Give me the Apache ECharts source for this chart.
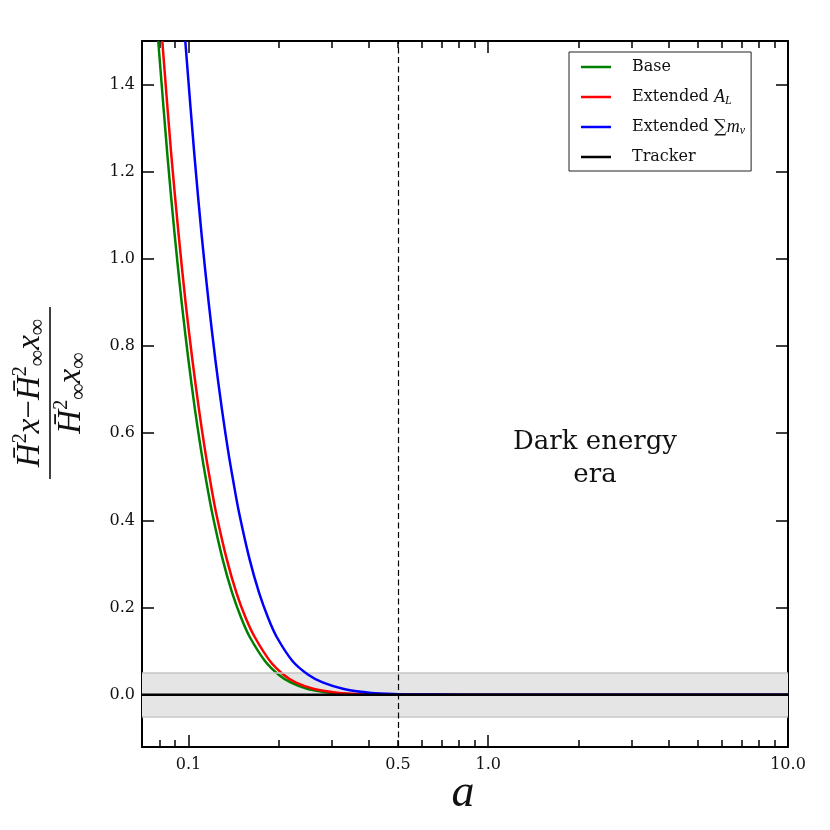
<!DOCTYPE html>
<html>
<head>
<meta charset="utf-8">
<script src="https://cdn.jsdelivr.net/npm/echarts@6/dist/echarts.min.js"></script>
<style>
html,body{margin:0;padding:0;background:#fff;}
#chart{width:830px;height:830px;}
</style>
</head>
<body>
<div id="chart"></div>
<script>
// ---------- data ----------
const baseA = [0.0793, 0.085, 0.09, 0.095, 0.1, 0.105, 0.11, 0.115, 0.12, 0.13, 0.14, 0.15, 0.16, 0.18, 0.2, 0.22, 0.25, 0.3, 0.35, 0.4, 0.5, 10];
const baseV = [1.5, 1.241, 1.054, 0.898, 0.768, 0.657, 0.564, 0.485, 0.417, 0.311, 0.233, 0.176, 0.133, 0.0775, 0.0459, 0.0276, 0.0132, 0.0041, 0.0013, 0.0004, 0, 0];

const alA = [0.0818, 0.0876, 0.0928, 0.0979, 0.1031, 0.1083, 0.1134, 0.1186, 0.1237, 0.1342, 0.1447, 0.1553, 0.1662, 0.1870, 0.2078, 0.2286, 0.2625, 0.318, 0.375, 0.43, 0.55, 10];
const alV = [1.5, 1.241, 1.054, 0.898, 0.768, 0.657, 0.564, 0.485, 0.417, 0.311, 0.233, 0.176, 0.133, 0.0775, 0.0459, 0.0276, 0.0132, 0.0041, 0.0013, 0.0004, 0, 0];

const mnuA = [0.0976, 0.1046, 0.1107, 0.1169, 0.1230, 0.1292, 0.1353, 0.1415, 0.1476, 0.1599, 0.1722, 0.1845, 0.1968, 0.2223, 0.2510, 0.2816, 0.33, 0.408, 0.5, 0.6, 0.8, 1.2, 10];
const mnuV = [1.5, 1.241, 1.054, 0.898, 0.768, 0.657, 0.564, 0.485, 0.417, 0.311, 0.233, 0.176, 0.133, 0.0775, 0.0459, 0.0276, 0.0132, 0.0041, 0.0013, 0.0004, 0.0001, 0, 0];

const trackerA = [0.07, 10];
const trackerV = [0, 0];

const bandLimits = [-0.05, 0.05];
const eraLine = 0.5;

const xMajorTicks = [0.1, 1, 10];
const xMinorTicks = [0.08, 0.09, 0.2, 0.3, 0.4, 0.5, 0.6, 0.7, 0.8, 0.9, 2, 3, 4, 5, 6, 7, 8, 9];
const xTickLabels = [0.1, 0.5, 1, 10];
const yTicks = [0, 0.2, 0.4, 0.6, 0.8, 1.0, 1.2, 1.4];
const xRange = [0.07, 10];
const yRange = [-0.12, 1.5];

const seriesNames = ['Base', 'Extended A_L', 'Extended Sum', 'Tracker'];
// --------------------------------------------------

const zip = (a, v) => a.map((x, i) => [x, v[i]]);
const FONT = 'DejaVu Serif';
const MATH = 'Liberation Serif';

const chart = echarts.init(document.getElementById('chart'), null, {renderer: 'canvas'});

function xAxisDef(pos, ticks, len, showLine, labels) {
  return {
    type: 'log', logBase: 10, min: xRange[0], max: xRange[1], position: pos,
    axisLine: {show: showLine, onZero: false, lineStyle: {color: '#000', width: 2}},
    axisTick: {show: true, inside: true, length: len, customValues: ticks, lineStyle: {color: '#000', width: 1.5}},
    axisLabel: labels ? {show: true, customValues: labels, margin: 10, color: '#111', fontFamily: FONT, fontSize: 16,
      formatter: v => Number(v).toFixed(1)} : {show: false},
    splitLine: {show: false}, minorTick: {show: false}
  };
}
function yAxisDef(pos, labels) {
  return {
    type: 'value', min: yRange[0], max: yRange[1], position: pos,
    axisLine: {show: true, onZero: false, lineStyle: {color: '#000', width: 2}},
    axisTick: {show: true, inside: true, length: 12, customValues: yTicks, lineStyle: {color: '#000', width: 1.5}},
    axisLabel: labels ? {show: true, customValues: yTicks, margin: 7, color: '#111', fontFamily: FONT, fontSize: 16,
      formatter: v => Number(v).toFixed(1)} : {show: false},
    splitLine: {show: false}
  };
}

const lineCommon = {type: 'line', showSymbol: false, symbol: 'none', smooth: 0.3, clip: true,
  xAxisIndex: 0, yAxisIndex: 0};

const legendRich = {
  sp: {width: 16},
  t: {fontFamily: FONT, fontSize: 16, color: '#111'},
  i: {fontFamily: MATH, fontStyle: 'italic', fontSize: 18, color: '#111'},
  s: {fontFamily: MATH, fontStyle: 'italic', fontSize: 12, color: '#111', verticalAlign: 'bottom', lineHeight: 20},
  sum: {fontFamily: FONT, fontSize: 18, color: '#111'}
};

const mathRich = {
  m: {fontFamily: MATH, fontStyle: 'italic', fontSize: 33, lineHeight: 38, fill: '#111'},
  o: {fontFamily: MATH, fontSize: 33, lineHeight: 38, fill: '#111'},
  p: {fontFamily: MATH, fontSize: 20, lineHeight: 20, verticalAlign: 'top', fill: '#111'},
  b: {fontFamily: MATH, fontSize: 23, lineHeight: 19, verticalAlign: 'bottom', fill: '#111'}
};

const LW = 2.5;

const option = {
  animation: false,
  backgroundColor: '#fff',
  grid: {left: 142, right: 42, top: 41, bottom: 83, containLabel: false},
  xAxis: [
    xAxisDef('bottom', xMajorTicks, 12, true, xTickLabels),
    xAxisDef('bottom', xMinorTicks, 7, false, null),
    xAxisDef('top', xMajorTicks, 12, true, null),
    xAxisDef('top', xMinorTicks, 7, false, null)
  ],
  yAxis: [yAxisDef('left', true), yAxisDef('right', false)],
  legend: {
    orient: 'vertical', left: 569, top: 52,
    padding: [5, 6, 4, 12], itemGap: 10,
    itemWidth: 30, itemHeight: 2.5, icon: 'rect',
    backgroundColor: '#fff', borderColor: '#222', borderWidth: 1, borderRadius: 0,
    data: seriesNames,
    textStyle: {fontFamily: FONT, fontSize: 16, color: '#111', lineHeight: 20, rich: legendRich},
    formatter: function (name) {
      if (name === 'Base') return '{sp|}{t|Base}';
      if (name === 'Extended A_L') return '{sp|}{t|Extended }{i|A}{s|L}';
      if (name === 'Extended Sum') return '{sp|}{t|Extended }{sum|∑}{i|m}{s|ν}';
      return '{sp|}{t|Tracker}';
    }
  },
  series: [
    Object.assign({}, lineCommon, {
      name: 'Base', data: zip(baseA, baseV), color: '#008000',
      lineStyle: {color: '#008000', width: LW}, z: 3,
      markArea: {silent: true, itemStyle: {color: '#e5e5e5'},
        data: [[{yAxis: bandLimits[0], xAxis: xRange[0]}, {yAxis: bandLimits[1], xAxis: xRange[1]}]]},
      markLine: {silent: true, symbol: 'none', label: {show: false},
        data: [
          {yAxis: bandLimits[0], lineStyle: {color: '#c4c4c4', width: 1.5, type: 'solid'}},
          {yAxis: bandLimits[1], lineStyle: {color: '#c4c4c4', width: 1.5, type: 'solid'}},
          {xAxis: eraLine, lineStyle: {color: '#000', width: 1.2, type: [6, 3.5]}}
        ]}
    }),
    Object.assign({}, lineCommon, {
      name: 'Extended A_L', data: zip(alA, alV), color: '#ff0000',
      lineStyle: {color: '#ff0000', width: LW}, z: 4
    }),
    Object.assign({}, lineCommon, {
      name: 'Extended Sum', data: zip(mnuA, mnuV), color: '#0000ff',
      lineStyle: {color: '#0000ff', width: LW}, z: 5
    }),
    Object.assign({}, lineCommon, {
      name: 'Tracker', data: zip(trackerA, trackerV), color: '#000',
      smooth: false, lineStyle: {color: '#000', width: LW}, z: 6
    })
  ],
  graphic: [
    {
      type: 'text', z: 20, x: 595, y: 459,
      style: {text: 'Dark energy\nera', align: 'center', verticalAlign: 'middle',
        fontFamily: FONT, fontSize: 26, lineHeight: 33, fill: '#111'}
    },
    {
      type: 'text', z: 20, x: 463, y: 794,
      style: {text: 'a', align: 'center', verticalAlign: 'middle', fontFamily: MATH, fontStyle: 'italic',
        fontSize: 46, fill: '#111'}
    },
    {
      type: 'group', x: 50, y: 393, rotation: Math.PI / 2, z: 20,
      children: [
        {
          type: 'text', x: 0, y: -20,
          style: {
            text: '{m|H̄}{p|2}{m|x}{o|−}{m|H̄}{p|2}{b|∞}{m|x}{b|∞}',
            align: 'center', verticalAlign: 'middle', rich: mathRich
          }
        },
        {type: 'line', shape: {x1: -86, y1: 0, x2: 86, y2: 0}, style: {stroke: '#111', lineWidth: 1.6}},
        {
          type: 'text', x: 0, y: 21,
          style: {
            text: '{m|H̄}{p|2}{b|∞}{m|x}{b|∞}',
            align: 'center', verticalAlign: 'middle', rich: mathRich
          }
        }
      ]
    }
  ]
};

chart.setOption(option);
</script>
</body>
</html>
